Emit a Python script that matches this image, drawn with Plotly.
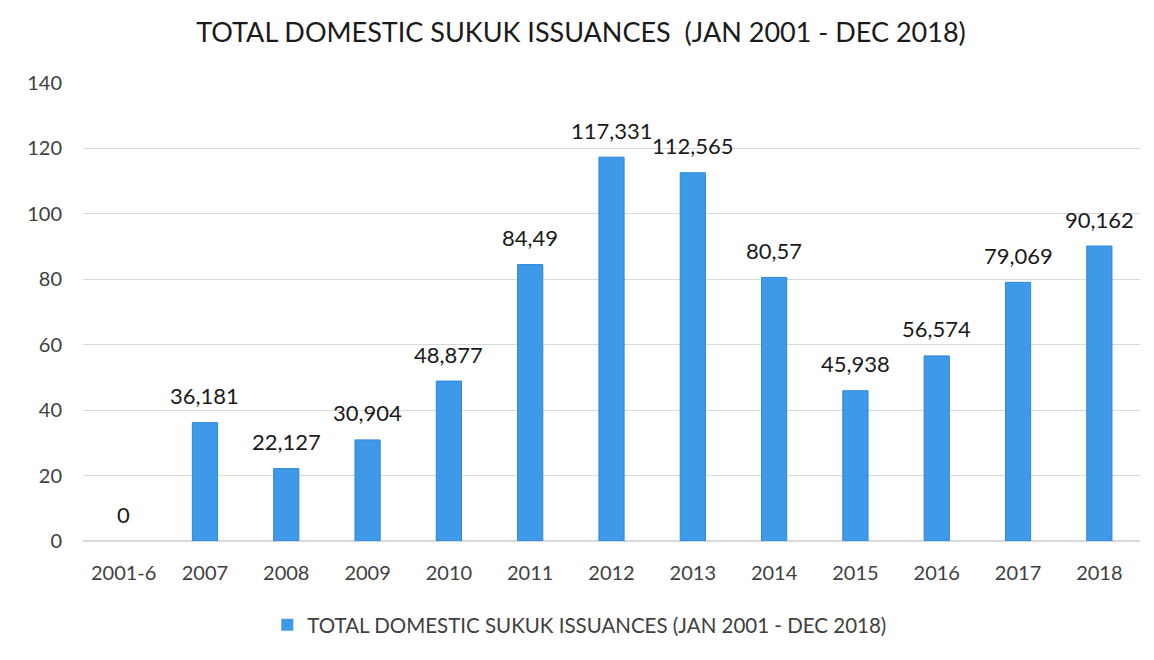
import plotly.graph_objects as go

# ── Datos ─────────────────────────────────────────────────────────────────────

YEARS = ["2001-6", "2007", "2008", "2009", "2010", "2011", "2012",
         "2013", "2014", "2015", "2016", "2017", "2018"]
VALUES = [0, 36.181, 22.127, 30.904, 48.877, 84.49, 117.331,
          112.565, 80.57, 45.938, 56.574, 79.069, 90.162]
LABELS = ["0", "36,181", "22,127", "30,904", "48,877", "84,49", "117,331",
          "112,565", "80,57", "45,938", "56,574", "79,069", "90,162"]

TITLE = "TOTAL DOMESTIC SUKUK ISSUANCES  (JAN 2001 - DEC 2018)"
SERIES = "TOTAL DOMESTIC SUKUK ISSUANCES (JAN 2001 - DEC 2018)"

COLORS = {
    "bar": "#3f99e9",
    "bar_line": "#2e87d8",
    "text": "#404040",
    "grid": "#d9d9d9",
}
FONT = "Lato, 'Open Sans', sans-serif"

fig = go.Figure(go.Bar(
    x=YEARS, y=VALUES,
    name=SERIES,
    width=0.31,
    marker=dict(
        color=COLORS["bar"],
        line=dict(color=COLORS["bar_line"], width=[0 if v == 0 else 1 for v in VALUES]),
    ),
    showlegend=True,
))

# etiquetas de datos sobre cada barra (x = índice de categoría)
for i, (y, t) in enumerate(zip(VALUES, LABELS)):
    fig.add_annotation(
        x=i, y=y, text=t, showarrow=False,
        yanchor="middle", yshift=27,
        font=dict(size=22, color="#1a1a1a", family=FONT),
    )

# el body de la página desplaza la figura 8px; se compensa en tamaño y márgenes
fig.update_layout(
    width=1146, height=652,
    paper_bgcolor="white", plot_bgcolor="white",
    font=dict(family=FONT, color=COLORS["text"], size=20),
    margin=dict(l=75, r=14, t=75, b=119),
    title=dict(text=TITLE, x=0.5, xanchor="center", y=0.963, yanchor="middle",
               font=dict(size=27, color="#1a1a1a")),
    legend=dict(orientation="h", x=0.47, xanchor="center", y=-0.183, yanchor="middle",
                font=dict(size=20.5, color=COLORS["text"])),
)
fig.update_yaxes(
    range=[0, 140], dtick=20, gridcolor=COLORS["grid"], gridwidth=1,
    zeroline=True, zerolinecolor=COLORS["grid"], showline=False,
    ticklabelstandoff=20, tickfont=dict(size=20),
)
fig.update_xaxes(
    type="category", range=[-0.5, len(YEARS) - 0.5], showline=False,
    ticklabelstandoff=18, tickfont=dict(size=20),
)

fig.write_html("out.html")
